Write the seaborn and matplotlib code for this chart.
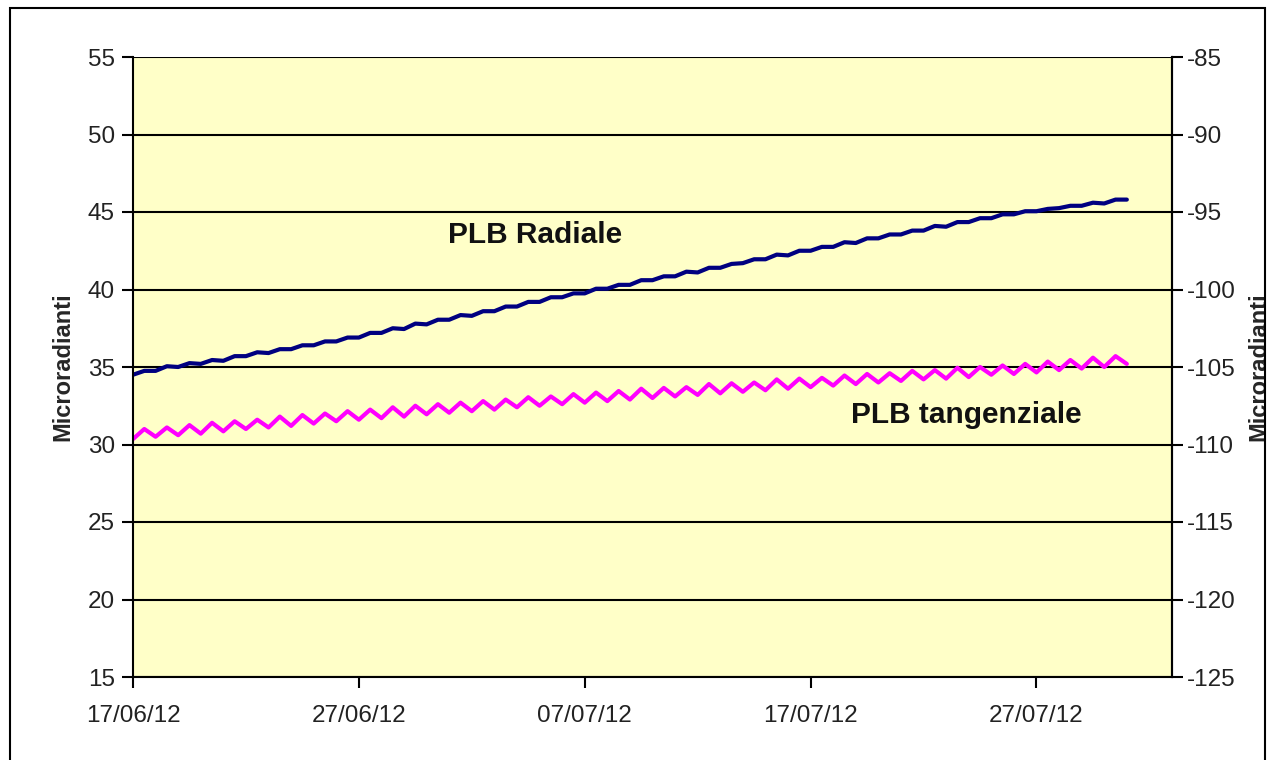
import pandas as pd
import matplotlib
matplotlib.use("Agg")
import matplotlib.pyplot as plt
import matplotlib.dates as mdates
from matplotlib.patches import Rectangle
import seaborn as sns

# readings every 12 hours, starting 17/06/12 00:00
start = "2012-06-17 00:00"

radiale = [
    34.5, 34.75, 34.75, 35.05, 35.0, 35.25, 35.2, 35.45, 35.4, 35.7,
    35.7, 35.95, 35.9, 36.15, 36.15, 36.4, 36.4, 36.65, 36.65, 36.9,
    36.9, 37.2, 37.2, 37.5, 37.45, 37.8, 37.75, 38.05, 38.05, 38.35,
    38.3, 38.6, 38.6, 38.9, 38.9, 39.2, 39.2, 39.5, 39.5, 39.75,
    39.75, 40.05, 40.05, 40.3, 40.3, 40.6, 40.6, 40.85, 40.85, 41.15,
    41.1, 41.4, 41.4, 41.65, 41.7, 41.95, 41.95, 42.25, 42.2, 42.5,
    42.5, 42.75, 42.75, 43.05, 43.0, 43.3, 43.3, 43.55, 43.55, 43.8,
    43.8, 44.1, 44.05, 44.35, 44.35, 44.6, 44.6, 44.85, 44.85, 45.05,
    45.05, 45.2, 45.25, 45.4, 45.4, 45.6, 45.55, 45.8, 45.8,
]

tangenziale = [
    30.35, 31.0, 30.5, 31.1, 30.6, 31.25, 30.7, 31.4, 30.85, 31.5,
    31.0, 31.6, 31.1, 31.8, 31.2, 31.9, 31.35, 32.0, 31.5, 32.15,
    31.6, 32.25, 31.7, 32.4, 31.8, 32.5, 31.95, 32.6, 32.05, 32.7,
    32.15, 32.8, 32.25, 32.9, 32.4, 33.05, 32.5, 33.1, 32.6, 33.25,
    32.7, 33.35, 32.8, 33.45, 32.9, 33.6, 33.0, 33.65, 33.1, 33.7,
    33.2, 33.9, 33.3, 33.95, 33.4, 34.0, 33.5, 34.2, 33.6, 34.25,
    33.7, 34.3, 33.8, 34.45, 33.9, 34.55, 34.0, 34.6, 34.1, 34.75,
    34.2, 34.8, 34.25, 34.95, 34.35, 35.0, 34.5, 35.1, 34.55, 35.2,
    34.65, 35.35, 34.8, 35.45, 34.9, 35.6, 35.0, 35.7, 35.2,
]

left_ticks = [15, 20, 25, 30, 35, 40, 45, 50, 55]
right_ticks = [-125, -120, -115, -110, -105, -100, -95, -90, -85]
date_ticks = ["2012-06-17", "2012-06-27", "2012-07-07", "2012-07-17", "2012-07-27"]

times = pd.date_range(start, periods=len(radiale), freq="12h")
df = pd.concat([
    pd.DataFrame({"data": times, "valore": radiale, "serie": "PLB Radiale"}),
    pd.DataFrame({"data": times, "valore": tangenziale, "serie": "PLB tangenziale"}),
])

sns.set_theme(style="white")
plt.rcParams["font.family"] = ["Liberation Sans", "DejaVu Sans"]

fig = plt.figure(figsize=(12.74, 7.6), dpi=100)
ax = fig.add_axes([133 / 1274, 83 / 760, 1039 / 1274, 620 / 760])
ax.set_facecolor("#FFFFC8")

sns.lineplot(data=df, x="data", y="valore", hue="serie",
             palette={"PLB Radiale": "#000080", "PLB tangenziale": "#FF00FF"},
             linewidth=3, legend=False, ax=ax)

ax.set_ylim(15, 55)
ax.set_yticks(left_ticks)
ax.set_xlim(pd.Timestamp("2012-06-17"), pd.Timestamp("2012-08-02"))
ax.set_xticks(pd.to_datetime(date_ticks))
ax.xaxis.set_major_formatter(mdates.DateFormatter("%d/%m/%y"))
ax.grid(axis="y", color="black", linewidth=1.5)
ax.grid(axis="x", visible=False)
ax.set_axisbelow(True)

for side in ["left", "bottom", "right"]:
    ax.spines[side].set_color("black")
    ax.spines[side].set_linewidth(1.5)
ax.spines["top"].set_visible(False)

ax.tick_params(axis="both", direction="out", length=8, width=1.5, color="black",
               labelsize=17.5, labelcolor="#222222", left=True, bottom=True)
ax.tick_params(axis="y", pad=5)
ax.tick_params(axis="x", pad=12)
ax.set_xlabel("")
ax.set_ylabel("Microradianti", fontsize=17, fontweight="bold", labelpad=10)

ax2 = ax.twinx()
ax2.set_ylim(-125, -85)
ax2.set_yticks(right_ticks)
ax2.set_yticklabels(["-" + str(abs(t)) for t in right_ticks])
for side in ["left", "bottom", "top"]:
    ax2.spines[side].set_visible(False)
ax2.spines["right"].set_color("black")
ax2.spines["right"].set_linewidth(1.5)
ax2.tick_params(axis="y", direction="out", length=8, width=1.5, color="black",
                labelsize=17.5, labelcolor="#222222", right=True, pad=3)
ax2.set_ylabel("Microradianti", fontsize=17, fontweight="bold", labelpad=8)

ax.text(mdates.date2num(pd.Timestamp("2012-06-30 22:30")), 43.0, "PLB Radiale",
        fontsize=21.5, fontweight="bold", color="#111111", ha="left", va="baseline")
ax.text(mdates.date2num(pd.Timestamp("2012-07-18 19:00")), 31.4, "PLB tangenziale",
        fontsize=21.5, fontweight="bold", color="#111111", ha="left", va="baseline")

fig.patches.append(Rectangle((10 / 1274, -0.1), 1255 / 1274, (752 / 760) + 0.1,
                             transform=fig.transFigure, fill=False,
                             edgecolor="black", linewidth=1.5))

fig.savefig("out.png", dpi=100)
